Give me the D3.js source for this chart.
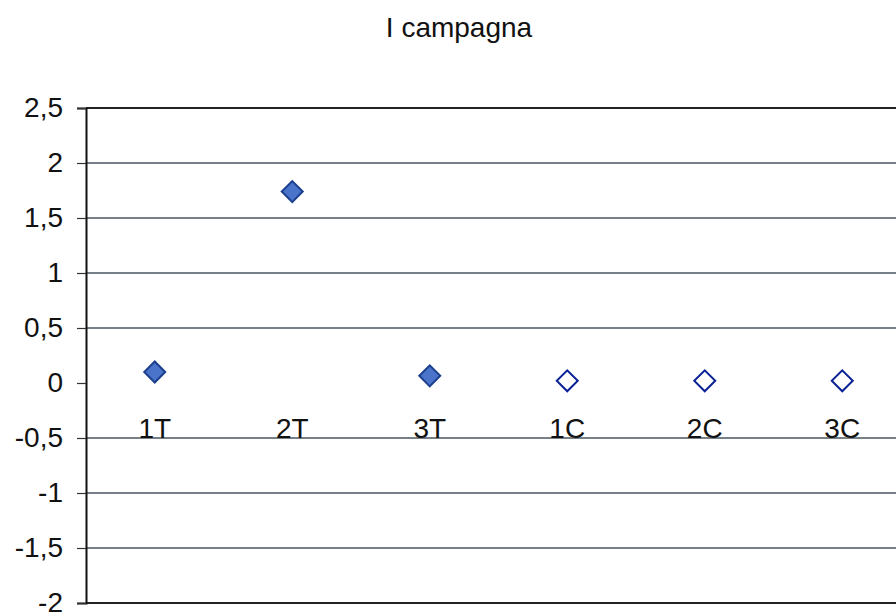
<!DOCTYPE html>
<html>
<head>
<meta charset="utf-8">
<script src="https://cdn.jsdelivr.net/npm/d3@7"></script>
<style>
  html, body { margin: 0; padding: 0; background: #fff; }
  svg { display: block; font-family: "Liberation Sans", Arial, sans-serif; }
</style>
</head>
<body>
<svg id="chart" width="896" height="613"></svg>
<script>
// Chart data
const title = "I campagna";
const categories = ["1T", "2T", "3T", "1C", "2C", "3C"];
const values = [0.10, 1.74, 0.065, 0.02, 0.02, 0.02];
const filled = [true, true, true, false, false, false];
const yTicks = [2.5, 2, 1.5, 1, 0.5, 0, -0.5, -1, -1.5, -2];

const svg = d3.select("#chart");
const W = 896, H = 613;
const m = { left: 86, right: -15, top: 108, bottom: 10 };

const x = d3.scaleBand().domain(categories).range([m.left, W - m.right]).padding(0);
const y = d3.scaleLinear().domain([-2, 2.5]).range([603, m.top]);
const fmt = v => String(v).replace(".", ",");

// Title
svg.append("text")
  .attr("x", 459).attr("y", 37)
  .attr("text-anchor", "middle")
  .attr("font-size", 28).attr("fill", "#111")
  .text(title);

// Horizontal gridlines (the zero line is left out, the category axis sits there)
svg.append("g")
  .selectAll("line")
  .data(yTicks.filter(v => v !== 0))
  .join("line")
  .attr("x1", m.left).attr("x2", W)
  .attr("y1", d => y(d)).attr("y2", d => y(d))
  .attr("stroke", d => (d === 2.5 || d === -2) ? "#222" : "#4a5560")
  .attr("stroke-width", d => (d === 2.5 || d === -2) ? 2 : 1.3);

// Value axis with comma decimals
const yAxis = d3.axisLeft(y).tickValues(yTicks).tickSize(9).tickPadding(14).tickFormat(fmt);
const gy = svg.append("g").attr("transform", `translate(${m.left},0)`).call(yAxis);
gy.select(".domain").attr("stroke", "#111").attr("stroke-width", 2);
gy.selectAll(".tick line").attr("stroke", "#333").attr("stroke-width", 1.2);
gy.selectAll(".tick text")
  .attr("font-size", 28).attr("fill", "#111")
  .attr("font-family", "Liberation Sans, Arial, sans-serif");

// Category labels below the zero line
svg.append("g")
  .selectAll("text")
  .data(categories)
  .join("text")
  .attr("x", d => x(d) + x.bandwidth() / 2)
  .attr("y", 438)
  .attr("text-anchor", "middle")
  .attr("font-size", 28).attr("fill", "#111")
  .text(d => d);

// Diamond markers
const diamond = d3.symbol().type(d3.symbolDiamond2 || d3.symbolSquare).size(240);
svg.append("g")
  .selectAll("path")
  .data(categories.map((c, i) => ({ c, v: values[i], f: filled[i] })))
  .join("path")
  .attr("transform", d => `translate(${x(d.c) + x.bandwidth() / 2},${y(d.v)}) rotate(45)`)
  .attr("d", d3.symbol().type(d3.symbolSquare).size(220))
  .attr("fill", d => d.f ? "#4a74c9" : "#fff")
  .attr("stroke", d => d.f ? "#1c3f8e" : "#0a2196")
  .attr("stroke-width", 2);
</script>
</body>
</html>
